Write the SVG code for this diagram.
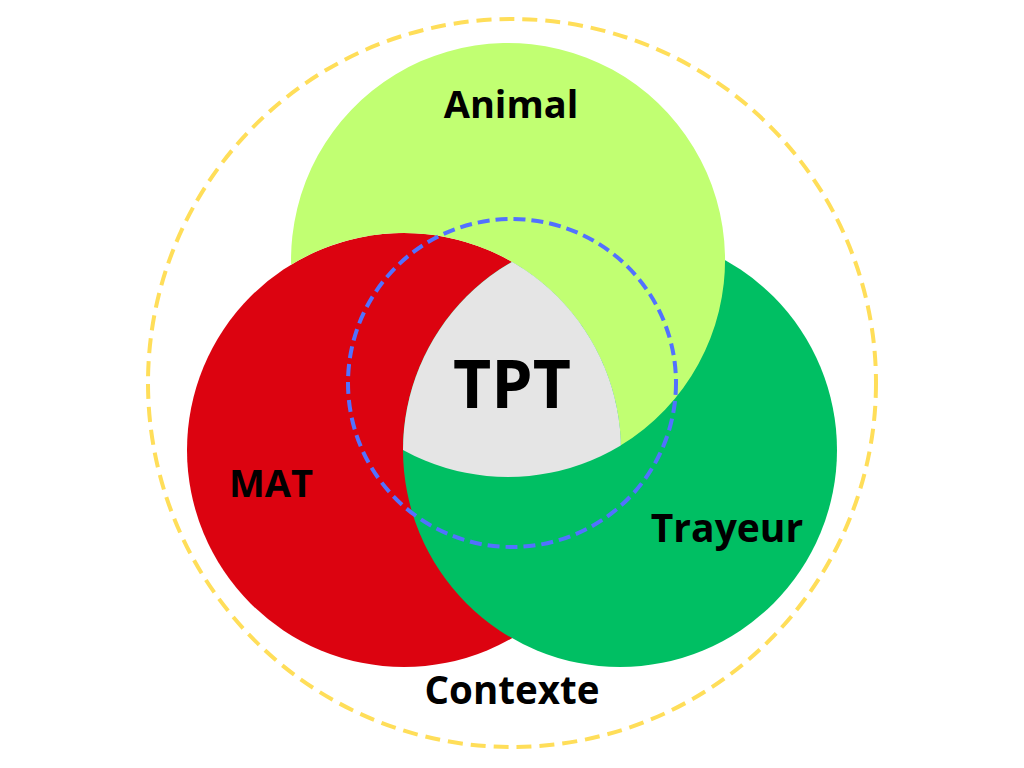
<svg xmlns="http://www.w3.org/2000/svg" width="1024" height="768" viewBox="0 0 1024 768">
<style>
.lbl{font-family:"Open Sans","Liberation Sans",sans-serif;font-weight:700;fill:#000;text-anchor:middle}
</style>
<defs>
<clipPath id="clipA"><circle cx="508" cy="260" r="217"/></clipPath>
<clipPath id="clipT"><circle cx="620" cy="450" r="217"/></clipPath>
</defs>
<rect width="1024" height="768" fill="#fff"/>
<g id="mat"><circle cx="404" cy="450" r="217" fill="#dc0310"/></g>
<g id="trayeur"><circle cx="620" cy="450" r="217" fill="#00bf63"/></g>
<g id="animal"><path d="M291.1,264.7 A217,217 0 1 1 620.9,445.3 A217,217 0 0 0 291.1,264.7 Z" fill="#c1ff72"/></g>
<g id="tpt"><g clip-path="url(#clipT)"><circle cx="404" cy="450" r="217" fill="#e5e5e5" clip-path="url(#clipA)"/></g></g>
<g id="contexte-ring"><circle cx="512" cy="383" r="364" fill="none" stroke="#ffde59" stroke-width="4" stroke-dasharray="15 8"/></g>
<g id="tpt-ring"><circle cx="512" cy="383" r="164" fill="none" stroke="#5271ff" stroke-width="4" stroke-dasharray="12 6"/></g>
<g id="labels">
<text class="lbl" x="511" y="118" font-size="38">Animal</text>
<text class="lbl" x="512" y="408" font-size="66">TPT</text>
<text class="lbl" x="271" y="497" font-size="38">MAT</text>
<text class="lbl" x="727" y="542" font-size="39">Trayeur</text>
<text class="lbl" x="512" y="704" font-size="38.5">Contexte</text>
</g>
</svg>
